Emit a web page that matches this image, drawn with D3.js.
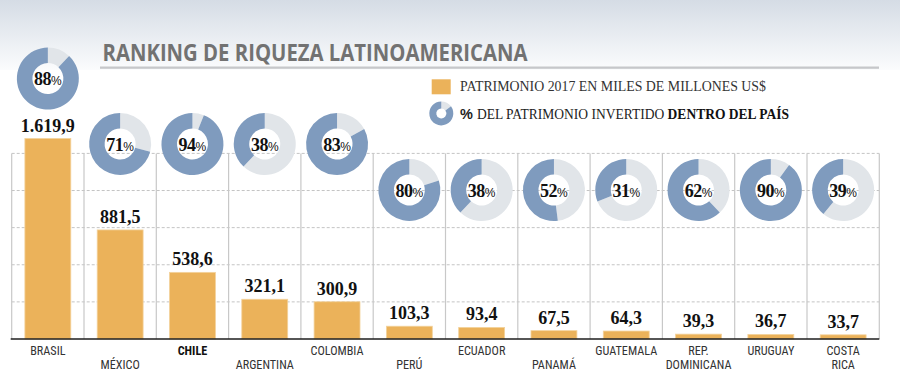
<!DOCTYPE html>
<html>
<head>
<meta charset="utf-8">
<script src="https://cdn.jsdelivr.net/npm/d3@7/dist/d3.min.js"></script>
<style>
  html, body { margin: 0; padding: 0; background: #fff; }
  svg { display: block; }
</style>
</head>
<body>
<svg id="chart" width="900" height="392"></svg>
<script>
// ---- data ----
const countries = ["BRASIL", "MÉXICO", "CHILE", "ARGENTINA", "COLOMBIA", "PERÚ", "ECUADOR", "PANAMÁ", "GUATEMALA", "REP. DOMINICANA", "URUGUAY", "COSTA RICA"];
const patrimonio = [1619.9, 881.5, 538.6, 321.1, 300.9, 103.3, 93.4, 67.5, 64.3, 39.3, 36.7, 33.7];
const pctDentro = [88, 71, 94, 38, 83, 80, 38, 52, 31, 62, 90, 39];
const yTicks = [300, 600, 900, 1200, 1500];
const highlight = "CHILE";
const titleText = "RANKING DE RIQUEZA LATINOAMERICANA";
const legendBar = "PATRIMONIO 2017 EN MILES DE MILLONES US$";

// ---- layout ----
const svg = d3.select("#chart");
const W = 900, H = 392;
const orange = "#ebb25a", blue = "#7f9bbe", grey = "#e1e5e9";
const xL = 11.7, xR = 879.3, yBase = 339, yTop = 153.4;

const defs = svg.append("defs");
const grad = defs.append("linearGradient").attr("id", "bg").attr("x1", 0).attr("y1", 0).attr("x2", 0).attr("y2", 1);
grad.append("stop").attr("offset", "0%").attr("stop-color", "#d5dce5");
grad.append("stop").attr("offset", "100%").attr("stop-color", "#fbfcfd");
svg.append("rect").attr("width", W).attr("height", H).attr("fill", "#fff");
svg.append("rect").attr("width", W).attr("height", 70).attr("fill", "url(#bg)");

// title
svg.append("text").attr("x", 102.5).attr("y", 61)
  .attr("font-family", "'Open Sans', sans-serif").attr("font-weight", 700).attr("font-size", 22.5)
  .attr("fill", "#727272").attr("textLength", 425).attr("lengthAdjust", "spacingAndGlyphs")
  .text(titleText);
svg.append("rect").attr("x", 100).attr("y", 66.5).attr("width", 779).attr("height", 2.3).attr("fill", "#c6c7ca");

// scales
const x = d3.scaleBand().domain(countries).range([xL, xR]).padding(0);
const y = d3.scaleLinear().domain([0, 1500]).range([yBase, yTop]);
const barW = x.bandwidth() * 0.635;

// gridlines
const g = svg.append("g");
g.selectAll("line.grid").data(yTicks).join("line")
  .attr("x1", xL).attr("x2", xR)
  .attr("y1", d => y(d)).attr("y2", d => y(d))
  .attr("stroke", "#c4c4c4").attr("stroke-width", 1).attr("stroke-dasharray", "3,2");

// vertical separators
const seps = countries.map(c => x(c)).concat([xR]);
g.selectAll("line.sep").data(seps).join("line")
  .attr("x1", d => d).attr("x2", d => d)
  .attr("y1", yTop).attr("y2", yBase)
  .attr("stroke", "#c8c8c8").attr("stroke-width", 1.2);

// bars
const data = countries.map((c, i) => ({ c, v: patrimonio[i], p: pctDentro[i], i }));
g.selectAll("rect.bar").data(data).join("rect")
  .attr("x", d => x(d.c) + (x.bandwidth() - barW) / 2)
  .attr("y", d => y(d.v))
  .attr("width", barW)
  .attr("height", d => yBase - y(d.v))
  .attr("fill", orange)
  .attr("stroke", "#f3d29c").attr("stroke-width", 0.8);

// baseline
g.append("line").attr("x1", xL - 1).attr("x2", xR).attr("y1", yBase).attr("y2", yBase)
  .attr("stroke", "#1e1e1e").attr("stroke-width", 1.6);

// value labels
const loc = d3.formatLocale({ decimal: ",", thousands: ".", grouping: [3], currency: ["", ""] });
const fmt = loc.format(",.1f");
g.selectAll("text.val").data(data).join("text")
  .attr("x", d => x(d.c) + x.bandwidth() / 2)
  .attr("y", d => y(d.v) - 7)
  .attr("text-anchor", "middle")
  .attr("font-family", "'Liberation Serif', serif").attr("font-weight", 700).attr("font-size", 18)
  .attr("fill", "#111")
  .text(d => fmt(d.v));

// country labels (one text element per line)
const labelLines = [];
data.forEach(d => {
  const lines = d.c.split(" ");
  const row0 = lines.length > 1 ? 0 : d.i % 2;
  lines.forEach((ln, k) => labelLines.push({ d, ln, row: row0 + k }));
});
g.selectAll("text.cty").data(labelLines).join("text")
  .attr("x", l => x(l.d.c) + x.bandwidth() / 2)
  .attr("y", l => 355.2 + l.row * 14)
  .attr("text-anchor", "middle")
  .attr("font-family", "'Liberation Sans Narrow', 'Roboto Condensed', 'Liberation Sans', sans-serif")
  .attr("font-size", 12.2)
  .attr("font-weight", l => l.d.c === highlight ? 700 : 400)
  .attr("fill", l => l.d.c === highlight ? "#111" : "#333")
  .text(l => l.ln);

// donuts
const R = 31, r = 15.5;
const arc = d3.arc().innerRadius(r).outerRadius(R);
const donutY = d => d.v > 1000 ? y(d.v) - 60 : (d.v > 200 ? 144 : 190);
const dg = g.selectAll("g.donut").data(data).join("g")
  .attr("transform", d => `translate(${x(d.c) + x.bandwidth() / 2},${donutY(d)})`);
dg.append("path").attr("fill", grey)
  .attr("d", d => arc({ startAngle: 0, endAngle: 2 * Math.PI * (1 - d.p / 100) }));
dg.append("path").attr("fill", blue)
  .attr("d", d => arc({ startAngle: 2 * Math.PI * (1 - d.p / 100), endAngle: 2 * Math.PI }));
const pt = dg.append("text").attr("text-anchor", "middle").attr("y", 6.5)
  .attr("font-family", "'Liberation Serif', serif").attr("font-weight", 700).attr("fill", "#111");
pt.append("tspan").attr("font-size", 18).attr("letter-spacing", -0.5).text(d => d.p);
pt.append("tspan").attr("font-size", 12).attr("font-weight", 400).attr("font-family", "'Liberation Sans', sans-serif").text("%");

// legend
const lg = svg.append("g");
lg.append("rect").attr("x", 431.7).attr("y", 79.3).attr("width", 19).attr("height", 15).attr("fill", orange);
lg.append("text").attr("x", 460).attr("y", 91)
  .attr("font-family", "'Liberation Serif', serif").attr("font-size", 14).attr("fill", "#333")
  .attr("textLength", 306).attr("lengthAdjust", "spacingAndGlyphs")
  .text(legendBar);
const icon = lg.append("g").attr("transform", "translate(441.3,113.4)");
const arcS = d3.arc().innerRadius(5).outerRadius(12);
icon.append("path").attr("fill", grey).attr("d", arcS({ startAngle: 0, endAngle: 2 * Math.PI * 0.15 }));
icon.append("path").attr("fill", blue).attr("d", arcS({ startAngle: 2 * Math.PI * 0.15, endAngle: 2 * Math.PI }));
const lt = lg.append("text").attr("x", 460).attr("y", 118.5)
  .attr("font-family", "'Liberation Serif', serif").attr("font-size", 14).attr("fill", "#222")
  .attr("textLength", 329).attr("lengthAdjust", "spacingAndGlyphs");
lt.append("tspan").attr("font-family", "'Liberation Sans', sans-serif").attr("font-weight", 700).attr("font-size", 15).text("% ");
lt.append("tspan").text("DEL PATRIMONIO INVERTIDO ");
lt.append("tspan").attr("font-weight", 700).attr("fill", "#111").text("DENTRO DEL PAÍS");
</script>
</body>
</html>
